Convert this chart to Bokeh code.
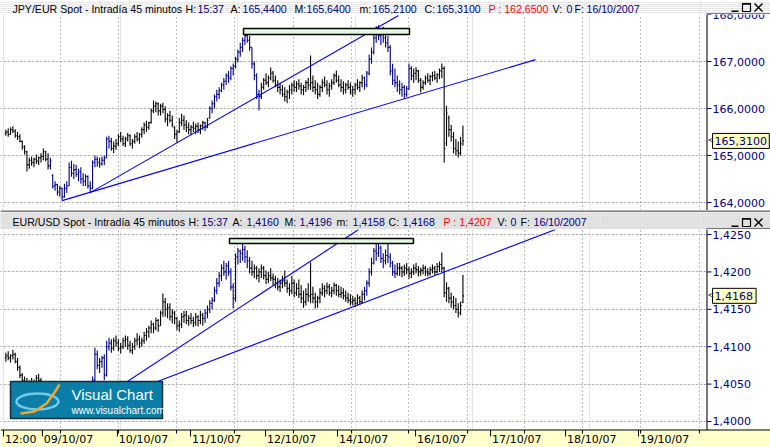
from bokeh.plotting import figure
from bokeh.models import ColumnDataSource, Range1d, FixedTicker, Grid
from bokeh.layouts import column
from bokeh.core.properties import value
from bokeh.embed import file_html
from bokeh.resources import INLINE

# ---------------- DATA ----------------
# JPY/EUR 45-minute bars (bar index 1..196)
top_open = [165.47,165.50,165.45,165.55,165.52,165.42,165.40,165.30,165.18,165.08,
164.80,164.90,164.85,164.92,164.88,164.95,164.98,165.08,164.92,164.78,
164.58,164.35,164.38,164.22,164.30,164.12,164.30,164.35,164.75,164.62,
164.70,164.60,164.65,164.50,164.45,164.55,164.35,164.30,164.85,164.92,
164.85,164.82,164.90,164.95,165.35,165.30,165.15,165.20,165.25,165.40,
165.35,165.25,165.35,165.42,165.25,165.30,165.40,165.35,165.45,165.55,
165.65,165.60,165.70,165.95,166.05,166.10,165.95,166.05,165.98,165.78,
165.85,165.75,165.60,165.45,165.50,165.70,165.75,165.65,165.60,165.55,
165.60,165.58,165.62,165.55,165.63,165.70,165.60,165.80,166.00,166.10,
166.25,166.30,166.38,166.50,166.58,166.70,166.65,166.85,166.90,167.05,
167.20,167.30,167.45,167.55,167.45,167.30,166.95,166.70,166.30,166.25,
166.45,166.60,166.55,166.65,166.75,166.60,166.50,166.45,166.40,166.30,
166.25,166.35,166.40,166.50,166.45,166.52,166.48,166.40,166.45,166.55,
166.50,166.55,166.45,166.40,166.30,166.45,166.55,166.50,166.40,166.48,
166.55,166.70,166.60,166.50,166.45,166.40,166.50,166.45,166.35,166.40,
166.50,166.45,166.55,166.65,166.50,166.75,167.05,167.20,167.50,167.65,
167.55,167.62,167.50,167.40,167.30,166.80,166.60,166.55,166.50,166.40,
166.45,166.30,166.42,166.85,166.70,166.75,166.80,166.60,166.45,166.55,
166.65,166.60,166.68,166.70,166.65,166.72,166.80,166.85,165.25,165.80,
165.55,165.40,165.15,165.10,165.05,165.44]
top_high = [165.55,165.58,165.60,165.62,165.56,165.50,165.45,165.32,165.22,165.10,
164.95,164.98,164.95,165.02,164.98,165.05,165.15,165.10,165.05,164.95,
164.60,164.45,164.40,164.35,164.32,164.40,164.45,164.85,164.89,164.82,
164.80,164.72,164.75,164.62,164.60,164.58,164.45,164.90,165.00,164.98,
164.95,164.98,165.00,165.40,165.42,165.38,165.30,165.35,165.45,165.50,
165.42,165.40,165.48,165.45,165.35,165.45,165.50,165.48,165.60,165.70,
165.74,165.72,166.00,166.17,166.15,166.13,166.10,166.12,166.05,165.90,
165.95,165.85,165.62,165.55,165.80,165.89,165.85,165.75,165.70,165.65,
165.72,165.68,165.70,165.66,165.74,165.72,165.80,166.05,166.17,166.30,
166.40,166.45,166.55,166.65,166.75,166.80,166.90,166.96,167.10,167.25,
167.40,167.51,167.66,167.62,167.55,167.30,167.00,166.75,166.40,166.55,
166.65,166.75,166.70,166.87,166.80,166.70,166.60,166.55,166.50,166.45,
166.40,166.50,166.55,166.60,166.58,166.62,166.55,166.50,166.60,166.65,
167.13,166.70,166.60,166.55,166.50,166.62,166.68,166.60,166.55,166.62,
166.75,166.81,166.70,166.62,166.58,166.55,166.60,166.55,166.48,166.55,
166.62,166.58,166.72,166.68,166.80,167.15,167.30,167.60,167.75,167.77,
167.70,167.74,167.60,167.55,167.35,166.95,166.85,166.70,166.60,166.55,
166.50,166.48,166.96,166.90,166.85,166.88,166.82,166.65,166.60,166.70,
166.75,166.72,166.78,166.80,166.75,166.85,166.96,166.90,166.06,165.85,
165.65,165.50,165.35,165.30,165.40,165.64]
top_low = [165.42,165.40,165.44,165.48,165.38,165.33,165.28,165.12,165.02,164.66,
164.72,164.78,164.75,164.82,164.80,164.85,164.90,164.88,164.70,164.70,
164.30,164.25,164.15,164.12,164.04,164.10,164.20,164.35,164.55,164.50,
164.55,164.45,164.40,164.35,164.35,164.30,164.21,164.28,164.75,164.76,
164.74,164.78,164.80,164.95,165.15,165.10,165.05,165.12,165.20,165.28,
165.20,165.18,165.30,165.20,165.15,165.25,165.30,165.25,165.38,165.45,
165.50,165.55,165.68,165.90,165.92,165.85,165.85,165.90,165.70,165.62,
165.70,165.60,165.35,165.28,165.48,165.62,165.55,165.50,165.45,165.43,
165.50,165.45,165.48,165.45,165.55,165.52,165.58,165.78,165.90,166.00,
166.15,166.20,166.35,166.40,166.50,166.55,166.60,166.70,166.85,166.98,
167.10,167.20,167.35,167.40,167.23,166.85,166.60,166.20,165.96,166.20,
166.40,166.50,166.45,166.60,166.55,166.45,166.35,166.30,166.25,166.15,
166.11,166.20,166.30,166.35,166.35,166.40,166.30,166.28,166.35,166.40,
166.40,166.35,166.30,166.20,166.25,166.35,166.45,166.30,166.25,166.40,
166.50,166.55,166.45,166.35,166.30,166.32,166.40,166.30,166.25,166.30,
166.40,166.35,166.45,166.40,166.45,166.70,166.95,167.15,167.40,167.45,
167.35,167.40,167.30,167.20,166.70,166.50,166.45,166.35,166.30,166.25,
166.21,166.25,166.40,166.60,166.55,166.60,166.55,166.34,166.40,166.50,
166.55,166.50,166.58,166.60,166.55,166.62,166.65,164.85,165.20,165.40,
165.30,165.05,165.00,164.96,165.00,165.21]
top_close = [165.50,165.45,165.55,165.52,165.42,165.40,165.30,165.18,165.08,164.80,
164.90,164.85,164.92,164.88,164.95,164.98,165.08,164.92,164.78,164.88,
164.35,164.38,164.22,164.30,164.12,164.30,164.35,164.75,164.62,164.70,
164.60,164.65,164.50,164.45,164.55,164.35,164.30,164.85,164.92,164.85,
164.82,164.90,164.95,165.35,165.30,165.15,165.20,165.25,165.40,165.35,
165.25,165.35,165.42,165.25,165.30,165.40,165.35,165.45,165.55,165.65,
165.60,165.70,165.95,166.05,166.10,165.95,166.05,165.98,165.78,165.85,
165.75,165.65,165.45,165.50,165.70,165.75,165.65,165.60,165.55,165.60,
165.58,165.62,165.55,165.63,165.70,165.60,165.75,166.00,166.10,166.25,
166.30,166.38,166.50,166.58,166.70,166.65,166.85,166.90,167.05,167.20,
167.30,167.45,167.55,167.45,167.30,166.95,166.70,166.30,166.25,166.45,
166.60,166.55,166.65,166.75,166.60,166.50,166.45,166.40,166.30,166.25,
166.35,166.40,166.50,166.45,166.52,166.48,166.40,166.45,166.55,166.50,
166.55,166.45,166.40,166.30,166.45,166.55,166.50,166.40,166.48,166.55,
166.70,166.60,166.50,166.45,166.40,166.50,166.45,166.35,166.40,166.50,
166.45,166.55,166.65,166.50,166.75,167.05,167.20,167.50,167.65,167.55,
167.62,167.50,167.40,167.30,166.80,166.60,166.55,166.50,166.40,166.45,
166.30,166.42,166.85,166.70,166.75,166.80,166.60,166.45,166.55,166.65,
166.60,166.68,166.70,166.65,166.72,166.80,166.85,165.15,165.90,165.55,
165.40,165.15,165.10,165.05,165.25,165.31]
top_up_runs = [(20, 45), (86, 109), (154, 173)]      # bars drawn navy
top_prev = 162.65

# EUR/USD 45-minute bars
bot_open = [1.4085,1.4088,1.4085,1.4088,1.4090,1.4080,1.4072,1.4062,1.4055,1.4050,
1.4048,1.4052,1.4050,1.4046,1.4058,1.4055,1.4050,1.4044,1.4040,1.4036,
1.4032,1.4035,1.4038,1.4034,1.4028,1.4025,1.4032,1.4040,1.4042,1.4036,
1.4034,1.4030,1.4028,1.4030,1.4035,1.4032,1.4026,1.4038,1.4055,1.4090,
1.4075,1.4080,1.4085,1.4062,1.4100,1.4105,1.4098,1.4108,1.4105,1.4098,
1.4100,1.4108,1.4110,1.4102,1.4095,1.4100,1.4108,1.4110,1.4105,1.4108,
1.4115,1.4120,1.4125,1.4130,1.4125,1.4135,1.4128,1.4145,1.4160,1.4150,
1.4152,1.4140,1.4145,1.4138,1.4128,1.4130,1.4140,1.4142,1.4135,1.4138,
1.4135,1.4132,1.4140,1.4135,1.4142,1.4138,1.4145,1.4150,1.4158,1.4162,
1.4175,1.4185,1.4195,1.4205,1.4200,1.4208,1.4200,1.4180,1.4165,1.4220,
1.4228,1.4225,1.4230,1.4220,1.4215,1.4205,1.4200,1.4205,1.4195,1.4200,
1.4205,1.4195,1.4190,1.4195,1.4192,1.4190,1.4185,1.4180,1.4185,1.4188,
1.4185,1.4178,1.4175,1.4185,1.4172,1.4178,1.4170,1.4165,1.4160,1.4170,
1.4168,1.4170,1.4165,1.4160,1.4165,1.4172,1.4178,1.4175,1.4180,1.4172,
1.4175,1.4182,1.4175,1.4170,1.4172,1.4168,1.4165,1.4162,1.4160,1.4162,
1.4158,1.4165,1.4160,1.4170,1.4175,1.4185,1.4200,1.4212,1.4228,1.4225,
1.4232,1.4218,1.4215,1.4222,1.4220,1.4212,1.4200,1.4198,1.4205,1.4205,
1.4200,1.4205,1.4203,1.4198,1.4200,1.4205,1.4203,1.4200,1.4202,1.4205,
1.4200,1.4198,1.4203,1.4205,1.4200,1.4207,1.4210,1.4205,1.4172,1.4178,
1.4165,1.4160,1.4155,1.4150,1.4145,1.4160]
bot_high = [1.4092,1.4094,1.4090,1.4096,1.4092,1.4085,1.4075,1.4065,1.4060,1.4058,
1.4055,1.4058,1.4056,1.4062,1.4064,1.4058,1.4054,1.4048,1.4045,1.4042,
1.4040,1.4044,1.4046,1.4040,1.4035,1.4038,1.4045,1.4050,1.4048,1.4042,
1.4040,1.4038,1.4036,1.4040,1.4042,1.4038,1.4035,1.4060,1.4099,1.4095,
1.4085,1.4088,1.4090,1.4108,1.4112,1.4110,1.4112,1.4115,1.4110,1.4105,
1.4112,1.4115,1.4114,1.4108,1.4105,1.4112,1.4118,1.4115,1.4112,1.4120,
1.4125,1.4128,1.4135,1.4132,1.4139,1.4137,1.4148,1.4171,1.4165,1.4158,
1.4158,1.4150,1.4148,1.4140,1.4135,1.4145,1.4148,1.4148,1.4142,1.4145,
1.4140,1.4145,1.4142,1.4148,1.4145,1.4150,1.4155,1.4162,1.4166,1.4180,
1.4192,1.4200,1.4210,1.4215,1.4212,1.4215,1.4205,1.4185,1.4225,1.4232,
1.4230,1.4239,1.4235,1.4229,1.4220,1.4215,1.4210,1.4208,1.4205,1.4210,
1.4208,1.4202,1.4200,1.4205,1.4198,1.4195,1.4192,1.4190,1.4195,1.4202,
1.4190,1.4185,1.4195,1.4190,1.4185,1.4190,1.4182,1.4175,1.4178,1.4185,
1.4213,1.4180,1.4172,1.4168,1.4178,1.4185,1.4182,1.4186,1.4184,1.4180,
1.4186,1.4184,1.4182,1.4180,1.4178,1.4175,1.4172,1.4170,1.4168,1.4166,
1.4170,1.4168,1.4175,1.4180,1.4189,1.4205,1.4219,1.4232,1.4238,1.4245,
1.4235,1.4225,1.4230,1.4238,1.4225,1.4215,1.4210,1.4212,1.4212,1.4208,
1.4210,1.4212,1.4207,1.4205,1.4210,1.4212,1.4208,1.4206,1.4210,1.4208,
1.4205,1.4207,1.4210,1.4208,1.4212,1.4214,1.4226,1.4207,1.4186,1.4180,
1.4172,1.4168,1.4165,1.4158,1.4160,1.4196]
bot_low = [1.4080,1.4082,1.4079,1.4083,1.4078,1.4068,1.4058,1.4050,1.4045,1.4042,
1.4040,1.4044,1.4040,1.4045,1.4048,1.4042,1.4038,1.4032,1.4030,1.4026,
1.4024,1.4028,1.4030,1.4022,1.4018,1.4020,1.4028,1.4032,1.4030,1.4026,
1.4025,1.4022,1.4020,1.4024,1.4026,1.4020,1.4018,1.4035,1.4052,1.4070,
1.4065,1.4072,1.4055,1.4060,1.4095,1.4092,1.4095,1.4100,1.4094,1.4091,
1.4097,1.4100,1.4096,1.4092,1.4090,1.4096,1.4102,1.4098,1.4100,1.4104,
1.4108,1.4112,1.4118,1.4118,1.4122,1.4120,1.4128,1.4140,1.4140,1.4138,
1.4135,1.4131,1.4130,1.4122,1.4120,1.4125,1.4132,1.4130,1.4128,1.4130,
1.4126,1.4128,1.4127,1.4130,1.4128,1.4132,1.4138,1.4145,1.4150,1.4160,
1.4170,1.4180,1.4188,1.4195,1.4190,1.4195,1.4175,1.4151,1.4160,1.4210,
1.4212,1.4215,1.4212,1.4205,1.4198,1.4195,1.4192,1.4190,1.4186,1.4192,
1.4190,1.4184,1.4185,1.4188,1.4182,1.4178,1.4175,1.4173,1.4178,1.4180,
1.4172,1.4168,1.4170,1.4166,1.4168,1.4165,1.4158,1.4152,1.4155,1.4160,
1.4158,1.4158,1.4151,1.4152,1.4158,1.4168,1.4166,1.4170,1.4168,1.4166,
1.4170,1.4168,1.4166,1.4165,1.4163,1.4160,1.4158,1.4155,1.4155,1.4153,
1.4155,1.4156,1.4158,1.4162,1.4168,1.4180,1.4195,1.4210,1.4215,1.4220,
1.4212,1.4205,1.4210,1.4212,1.4206,1.4195,1.4192,1.4195,1.4195,1.4193,
1.4195,1.4197,1.4191,1.4192,1.4196,1.4198,1.4194,1.4195,1.4197,1.4195,
1.4194,1.4195,1.4198,1.4196,1.4198,1.4200,1.4200,1.4166,1.4160,1.4158,
1.4152,1.4150,1.4145,1.4139,1.4142,1.4158]
bot_close = [1.4088,1.4085,1.4088,1.4090,1.4080,1.4072,1.4062,1.4055,1.4050,1.4048,
1.4052,1.4050,1.4046,1.4058,1.4055,1.4050,1.4044,1.4040,1.4036,1.4032,
1.4035,1.4038,1.4034,1.4028,1.4025,1.4032,1.4040,1.4042,1.4036,1.4034,
1.4030,1.4028,1.4030,1.4035,1.4032,1.4026,1.4030,1.4055,1.4090,1.4075,
1.4080,1.4085,1.4062,1.4100,1.4105,1.4098,1.4108,1.4105,1.4098,1.4100,
1.4108,1.4110,1.4102,1.4095,1.4100,1.4108,1.4110,1.4105,1.4108,1.4115,
1.4120,1.4125,1.4130,1.4125,1.4135,1.4128,1.4145,1.4160,1.4150,1.4152,
1.4140,1.4145,1.4138,1.4128,1.4130,1.4140,1.4142,1.4135,1.4138,1.4135,
1.4132,1.4140,1.4135,1.4142,1.4138,1.4145,1.4150,1.4158,1.4162,1.4175,
1.4185,1.4195,1.4205,1.4200,1.4208,1.4200,1.4180,1.4165,1.4220,1.4228,
1.4225,1.4230,1.4220,1.4215,1.4205,1.4200,1.4205,1.4195,1.4200,1.4205,
1.4195,1.4190,1.4195,1.4192,1.4190,1.4185,1.4180,1.4185,1.4188,1.4185,
1.4178,1.4175,1.4185,1.4172,1.4178,1.4170,1.4165,1.4160,1.4170,1.4168,
1.4170,1.4165,1.4160,1.4165,1.4172,1.4178,1.4175,1.4180,1.4172,1.4175,
1.4182,1.4175,1.4170,1.4172,1.4168,1.4165,1.4162,1.4160,1.4162,1.4158,
1.4165,1.4160,1.4170,1.4175,1.4185,1.4200,1.4212,1.4228,1.4225,1.4232,
1.4218,1.4215,1.4222,1.4220,1.4212,1.4200,1.4198,1.4205,1.4205,1.4200,
1.4205,1.4203,1.4198,1.4200,1.4205,1.4203,1.4200,1.4202,1.4205,1.4200,
1.4198,1.4203,1.4205,1.4200,1.4207,1.4210,1.4205,1.4172,1.4178,1.4165,
1.4160,1.4155,1.4150,1.4145,1.4155,1.4168]
bot_up_runs = [(37, 45), (86, 105), (154, 167)]
bot_prev = 1.4207

# trend lines (bar index, price) and resistance zones
top_tl_x0 = [25.0, 37.0];   top_tl_y0 = [164.04, 164.21]
top_tl_x1 = [227.0, 168.5]; top_tl_y1 = [167.04, 167.98]
top_zone = dict(left=102.4, right=173.2, bottom=167.574, top=167.702)
bot_tl_x0 = [39.2, 52.0];   bot_tl_y0 = [1.40254, 1.40372]
bot_tl_x1 = [151.5, 235.5]; bot_tl_y1 = [1.42567, 1.42567]
bot_zone = dict(left=96.4, right=174.9, bottom=1.42380, top=1.42447)

top_ticks = [164.0, 165.0, 166.0, 167.0, 168.0]
bot_ticks = [1.400, 1.405, 1.410, 1.415, 1.420, 1.425]
day_pos = [0.0, 16.6, 48.6, 79.8, 111.8, 142.5, 175.8, 207.8, 239.8, 270.9]
day_labels = ["12:00", "09/10/07", "10/10/07", "11/10/07", "12/10/07", "14/10/07",
              "16/10/07", "17/10/07", "18/10/07", "19/10/07"]
vgrid_pos = [24.3, 49.1, 73.8, 98.5, 123.7, 148.5, 172.8, 198.0, 222.3, 247.0, 271.8, 296.9]
last_time = "15:37"
last_date = "16/10/2007"

# ---------------- STYLE / LAYOUT ----------------
NAVY = "#000080"
BLUE = "#0000ff"
GRIDC = "#808080"
FONT_HDR = "Liberation Sans"
FONT_AX = "DejaVu Sans"
YELLOW = "#ffffcc"


def px2x(px):          # layout helper: screen px -> bar index
    return (px - 3.0) / 2.344


def ty(py):            # top panel pixel -> price
    return 168.0 - (py - 14.0) / 47.0


def by(py):            # bottom panel pixel -> price
    return 1.42567 - (py - 229.0) * 0.0001337


def fmt4(v):
    return f"{v:.4f}".replace(".", ",")


xr = Range1d(px2x(0), px2x(770))


def header(h, bg, pieces, yc, btn_y):
    f = figure(width=770, height=h, x_range=Range1d(0, 770), y_range=Range1d(h, 0),
               min_border=0, toolbar_location=None, output_backend="svg",
               x_axis_location=None, y_axis_location=None,
               background_fill_color=bg, border_fill_color=bg, outline_line_color=None)
    src = ColumnDataSource(dict(x=[p[1] for p in pieces], y=[yc] * len(pieces),
                                t=[p[0] for p in pieces], c=[p[2] for p in pieces]))
    f.text(x="x", y="y", text="t", text_color="c", source=src,
           text_font=value(FONT_HDR), text_font_size="10.6px",
           text_baseline="middle", text_align="left")
    b = btn_y
    f.quad(left=[731], right=[738], top=[b + 7], bottom=[b + 8.6], fill_color="black", line_color=None)
    f.quad(left=[742], right=[750], top=[b], bottom=[b + 8], fill_color=None, line_color="black", line_width=1.2)
    f.segment(x0=[742], y0=[b + 0.6], x1=[750], y1=[b + 0.6], line_color="black", line_width=1.5)
    f.segment(x0=[754, 754], y0=[b, b + 8], x1=[762, 762], y1=[b + 8, b], line_color="black", line_width=1.4)
    return f


def panel(height, yrange, axis_bottom, o, h, l, c, runs, tl, zone, ticks, last):
    p = figure(width=770, height=height, x_range=xr, y_range=yrange, min_border=0,
               toolbar_location=None, output_backend="svg",
               x_axis_location=None, y_axis_location=None,
               background_fill_color="white", border_fill_color="white",
               outline_line_color=None)
    p.add_layout(Grid(dimension=0, ticker=FixedTicker(ticks=vgrid_pos),
                      grid_line_color=GRIDC, grid_line_dash="1 3"))
    p.add_layout(Grid(dimension=1, ticker=FixedTicker(ticks=ticks),
                      grid_line_color=GRIDC, grid_line_dash="1 3"))

    xs = list(range(1, len(c) + 1))
    cols = [NAVY if any(a <= i <= b for a, b in runs) else "black" for i in xs]
    src = ColumnDataSource(dict(x=xs, xl=[v - 0.45 for v in xs], xr=[v + 0.45 for v in xs],
                                o=o, h=h, l=l, c=c, col=cols))
    p.segment(x0="x", y0="l", x1="x", y1="h", source=src, line_color="col", line_width=1.1)
    p.segment(x0="xl", y0="o", x1="x", y1="o", source=src, line_color="col", line_width=1.1)
    p.segment(x0="x", y0="c", x1="xr", y1="c", source=src, line_color="col", line_width=1.1)

    p.segment(x0=tl[0], y0=tl[1], x1=tl[2], y1=tl[3], line_color=BLUE, line_width=1.1)
    p.quad(left=[zone["left"]], right=[zone["right"]], top=[zone["top"]], bottom=[zone["bottom"]],
           fill_color="#e2f7e0", line_color="black", line_width=1.5)

    # price scale on the right
    ax_x = px2x(706.5)
    p.quad(left=[ax_x], right=[px2x(771)], bottom=[yrange.start], top=[yrange.end],
           fill_color="white", line_color=None)
    p.segment(x0=[ax_x], y0=[axis_bottom], x1=[ax_x], y1=[yrange.end], line_color="black", line_width=1)
    n = len(ticks)
    p.segment(x0=[ax_x] * n, y0=ticks, x1=[px2x(711)] * n, y1=ticks, line_color=NAVY, line_width=1)
    p.text(x=[px2x(712)] * n, y=ticks, text=[fmt4(t) for t in ticks], text_color=NAVY,
           text_font=value(FONT_AX), text_font_size="11px", text_baseline="middle", text_align="left")
    # last-price marker box
    w = len(fmt4(last)) * 6.6 + 2
    half = (yrange.end - yrange.start) / (height) * 7.5
    p.quad(left=[px2x(712)], right=[px2x(714 + w)], bottom=[last - half], top=[last + half],
           fill_color="#ffffc0", line_color="black", line_width=1)
    p.text(x=[px2x(714)], y=[last], text=[fmt4(last)], text_color=NAVY,
           text_font=value(FONT_AX), text_font_size="11px", text_baseline="middle", text_align="left")
    p.text(x=[px2x(707)], y=[last], text=["<"], text_color="#303030",
           text_font=value(FONT_AX), text_font_size="8px", text_baseline="middle", text_align="left")
    return p


top_pieces = [("JPY/EUR Spot - Intradía 45 minutos", 12, "black"), ("H:", 185, "black"),
              (last_time, 197, NAVY), ("A:", 230, "black"), (fmt4(top_open[-1]), 242, NAVY),
              ("M:", 294, "black"), (fmt4(top_high[-1]), 306, NAVY), ("m:", 359, "black"),
              (fmt4(top_low[-1]), 372, NAVY), ("C:", 424, "black"), (fmt4(top_close[-1]), 436, NAVY),
              ("P : " + fmt4(top_prev), 488, "#ff0000"), ("V:", 552, "black"), ("0", 566, NAVY),
              ("F:", 574, "black"), (last_date, 586, NAVY)]
bot_pieces = [("EUR/USD Spot - Intradía 45 minutos", 12, "black"), ("H:", 188, "black"),
              (last_time, 201, NAVY), ("A:", 232, "black"), (fmt4(bot_open[-1]), 246, NAVY),
              ("M:", 284, "black"), (fmt4(bot_high[-1]), 299, NAVY), ("m:", 336, "black"),
              (fmt4(bot_low[-1]), 352, NAVY), ("C:", 388, "black"), (fmt4(bot_close[-1]), 402, NAVY),
              ("P : " + fmt4(bot_prev), 443, "#ff0000"), ("V:", 497, "black"), ("0", 510, NAVY),
              ("F:", 520, "black"), (last_date, 533, NAVY)]

hdr1 = header(14, "white", top_pieces, 8, 3)
hdr1.segment(x0=[706], y0=[13.5], x1=[770], y1=[13.5], line_color="black", line_width=1)

hdr2 = header(19, "#e0e0e0", bot_pieces, 11, 8)
hdr2.quad(left=[0], right=[770], top=[0], bottom=[2], fill_color="white", line_color=None)
hdr2.segment(x0=[0], y0=[0.5], x1=[770], y1=[0.5], line_color="black", line_width=1)
hdr2.segment(x0=[706], y0=[18.5], x1=[770], y1=[18.5], line_color="black", line_width=1)

top = panel(196, Range1d(ty(210), ty(14)), ty(210), top_open, top_high, top_low, top_close,
            top_up_runs, (top_tl_x0, top_tl_y0, top_tl_x1, top_tl_y1), top_zone, top_ticks,
            top_close[-1])
bot = panel(218, Range1d(by(447), by(229)), by(429.5), bot_open, bot_high, bot_low, bot_close,
            bot_up_runs, (bot_tl_x0, bot_tl_y0, bot_tl_x1, bot_tl_y1), bot_zone, bot_ticks,
            bot_close[-1])

# Visual Chart logo
bot.quad(left=[px2x(10)], right=[px2x(162)], top=[by(381)], bottom=[by(418)],
         fill_color="#0a7ea6", line_color="#12303c", line_width=1.5)
bot.ellipse(x=[px2x(37)], y=[by(401)], width=[px2x(58) - px2x(16)], height=[by(393) - by(409)],
            fill_color=None, line_color="#73c8ee", line_width=2.5)
bot.line(x=[px2x(20), px2x(34), px2x(46), px2x(54), px2x(59)],
         y=[by(413), by(411), by(403), by(392), by(384)], line_color="#f3a52a", line_width=2.5)
bot.text(x=[px2x(71), px2x(71)], y=[by(394), by(410)], text=["Visual Chart", "www.visualchart.com"],
         text_color="white", text_font=value(FONT_HDR), text_font_size=["15px", "10px"],
         text_baseline="middle", text_align="left")

# time scale band under the lower panel
bot.quad(left=[px2x(0)], right=[px2x(771)], bottom=[by(448)], top=[by(429.5)],
         fill_color=YELLOW, line_color=None)
bot.segment(x0=[px2x(0)], y0=[by(429.5)], x1=[px2x(770)], y1=[by(429.5)], line_color="black", line_width=1)
bot.segment(x0=day_pos, y0=[by(429.5)] * len(day_pos), x1=day_pos, y1=[by(436)] * len(day_pos),
            line_color="black", line_width=1)
bot.segment(x0=vgrid_pos, y0=[by(429.5)] * len(vgrid_pos), x1=vgrid_pos, y1=[by(433)] * len(vgrid_pos),
            line_color="black", line_width=1)
bot.text(x=[d + 0.6 for d in day_pos], y=[by(439)] * len(day_pos), text=day_labels,
         text_color="black", text_font=value(FONT_AX), text_font_size="11px",
         text_baseline="middle", text_align="left")

layout = column(hdr1, top, hdr2, bot, spacing=0)
open("out.html", "w").write(file_html(layout, INLINE))
